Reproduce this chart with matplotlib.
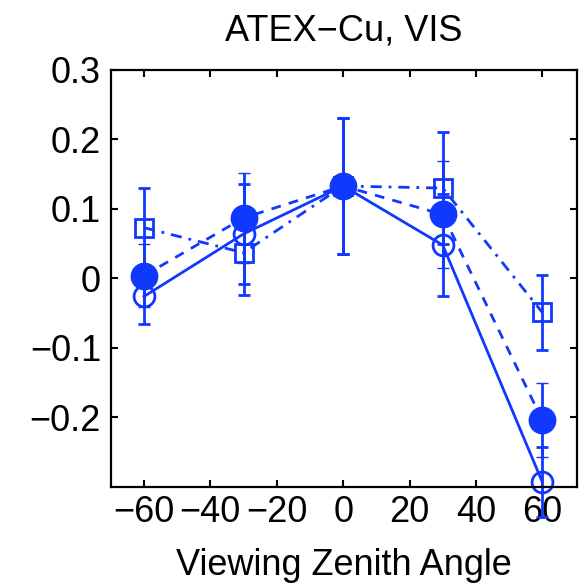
import matplotlib.pyplot as plt
import numpy as np

# viewing zenith angles
vza = [-60, -30, 0, 30, 60]

# three series
filled_y = [0.004, 0.087, 0.133, 0.092, -0.204]
filled_err = [0.045, 0.065, 0.098, 0.077, 0.053]

open_y = [-0.026, 0.064, 0.133, 0.048, -0.293]
open_err = [0.040, 0.072, 0.098, 0.073, 0.050]

square_y = [0.073, 0.037, 0.133, 0.130, -0.049]
square_err = [0.057, 0.061, 0.098, 0.081, 0.054]

xticks = [-60, -40, -20, 0, 20, 40, 60]
yticks = [-0.2, -0.1, 0, 0.1, 0.2, 0.3]

blue = '#1038ff'
fs = 26

plt.rcParams['font.family'] = ['Liberation Sans', 'DejaVu Sans']

fig = plt.figure(figsize=(5.83, 5.88), dpi=100)
ax = fig.add_axes([0.190, 0.172, 0.800, 0.709])

lw = 2
common = dict(color=blue, lw=lw, elinewidth=lw, capsize=4, capthick=lw)

# square, dash-dot
ax.errorbar(vza, square_y, yerr=square_err, marker='s', ms=13, mfc='none',
            mec=blue, mew=lw, dashes=(4, 2.5, 1, 2.5), **common)
# filled circle, dashed
ax.errorbar(vza, filled_y, yerr=filled_err, marker='o', ms=19, mfc=blue,
            mec=blue, mew=1, dashes=(3.5, 3), **common)
# open circle, solid
ax.errorbar(vza, open_y, yerr=open_err, marker='o', ms=15, mfc='none',
            mec=blue, mew=lw, ls='-', clip_on=False, **common)

ax.set_xlim(-70, 70.5)
ax.set_ylim(-0.3, 0.3)
ax.set_xticks(xticks)
ax.set_yticks(yticks)
ax.set_yticklabels(['\u22120.2', '\u22120.1', '0', '0.1', '0.2', '0.3'])
ax.set_xticklabels(['\u221260', '\u221240', '\u221220', '0', '20', '40', '60'])
ax.tick_params(direction='in', length=5, width=1.5, labelsize=fs,
               top=True, right=True)
ax.tick_params(axis='y', pad=7)
ax.tick_params(axis='x', pad=6)
for s in ax.spines.values():
    s.set_linewidth(1.6)

ax.set_title('ATEX\u2212Cu, VIS', fontsize=fs, pad=21)
ax.set_xlabel('Viewing Zenith Angle', fontsize=fs, labelpad=13)

fig.savefig('out.png', dpi=100)
